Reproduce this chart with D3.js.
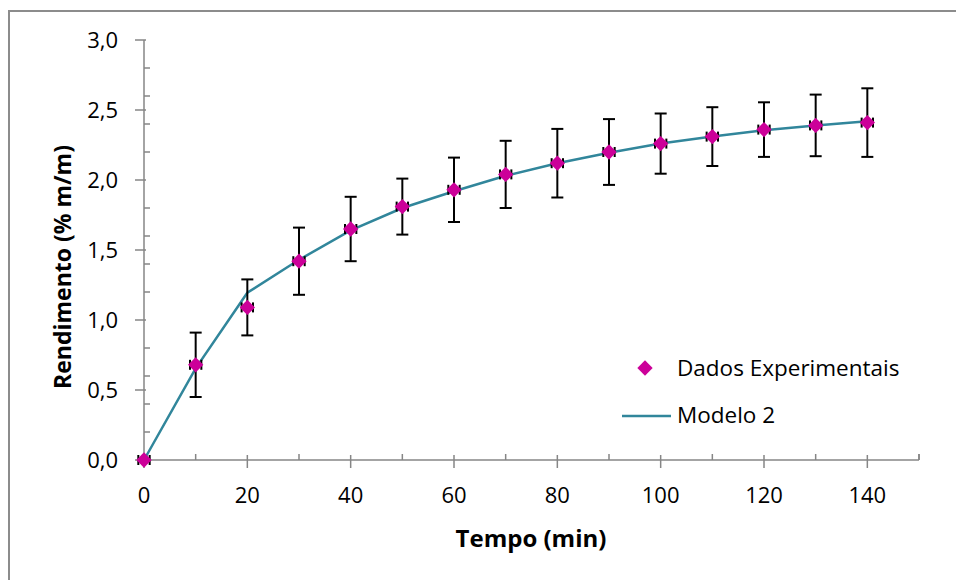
<!DOCTYPE html>
<html>
<head>
<meta charset="utf-8">
<script src="https://cdn.jsdelivr.net/npm/d3@7"></script>
<style>
  body { margin: 0; background: #fff; }
  text { font-family: "Open Sans", sans-serif; fill: #000; }
</style>
</head>
<body>
<svg width="956" height="580"></svg>
<script>
// data
const tempo = [0, 10, 20, 30, 40, 50, 60, 70, 80, 90, 100, 110, 120, 130, 140];
const rendimento = [0, 0.68, 1.09, 1.42, 1.65, 1.81, 1.93, 2.04, 2.12, 2.20, 2.26, 2.31, 2.36, 2.39, 2.41];
const erroY = [0, 0.23, 0.20, 0.24, 0.23, 0.20, 0.23, 0.24, 0.245, 0.235, 0.215, 0.21, 0.195, 0.22, 0.245];
const erroX = 1.1;
const modelo2 = [0, 0.655, 1.195, 1.43, 1.64, 1.80, 1.92, 2.03, 2.12, 2.195, 2.26, 2.31, 2.355, 2.39, 2.42];
const xTicks = [0, 20, 40, 60, 80, 100, 120, 140];
const yTicks = [0, 0.5, 1.0, 1.5, 2.0, 2.5, 3.0];

const svg = d3.select('svg');
const fmt = d3.format('.1f');
const comma = v => fmt(v).replace('.', ',');
const axisColor = '#868686';

// chart frame (runs off the right and bottom like the source)
svg.append('rect')
  .attr('x', 9).attr('y', 11)
  .attr('width', 1000).attr('height', 1000)
  .attr('fill', 'none')
  .attr('stroke', '#8c8c8c')
  .attr('stroke-width', 2);

const x = d3.scaleLinear().domain([0, 150]).range([144, 919]);
const y = d3.scaleLinear().domain([0, 3]).range([460, 40]);

// y axis
const gy = svg.append('g');
gy.append('line')
  .attr('x1', x(0)).attr('x2', x(0))
  .attr('y1', y(0)).attr('y2', y(3))
  .attr('stroke', axisColor).attr('stroke-width', 1.5);
gy.selectAll('.minor').data(d3.range(0.2, 3.01, 0.2).filter(v => Math.abs(v * 2 - Math.round(v * 2)) > 0.01))
  .join('line')
  .attr('x1', x(0)).attr('x2', x(0) + 6)
  .attr('y1', d => y(d)).attr('y2', d => y(d))
  .attr('stroke', axisColor).attr('stroke-width', 1.5);
gy.selectAll('.major').data(yTicks)
  .join('line')
  .attr('x1', x(0) - 9).attr('x2', x(0) + 2)
  .attr('y1', d => y(d)).attr('y2', d => y(d))
  .attr('stroke', axisColor).attr('stroke-width', 1.5);
gy.selectAll('text').data(yTicks)
  .join('text')
  .attr('x', 118)
  .attr('y', d => y(d))
  .attr('dy', '0.36em')
  .attr('text-anchor', 'end')
  .style('font-size', '22px')
  .text(d => comma(d));

// x axis
const gx = svg.append('g');
gx.append('line')
  .attr('x1', x(0)).attr('x2', x(150))
  .attr('y1', y(0)).attr('y2', y(0))
  .attr('stroke', axisColor).attr('stroke-width', 1.5);
gx.selectAll('.minor').data(d3.range(10, 151, 20).concat([150]))
  .join('line')
  .attr('x1', d => x(d)).attr('x2', d => x(d))
  .attr('y1', y(0) - 6).attr('y2', y(0))
  .attr('stroke', axisColor).attr('stroke-width', 1.5);
gx.selectAll('.major').data(xTicks)
  .join('line')
  .attr('x1', d => x(d)).attr('x2', d => x(d))
  .attr('y1', y(0) - 5).attr('y2', y(0) + 8)
  .attr('stroke', axisColor).attr('stroke-width', 1.5);
gx.selectAll('text').data(xTicks)
  .join('text')
  .attr('x', d => x(d))
  .attr('y', 503)
  .attr('text-anchor', 'middle')
  .style('font-size', '22px')
  .text(d => d);

// axis titles
svg.append('text')
  .attr('x', 531).attr('y', 547)
  .attr('text-anchor', 'middle')
  .style('font-size', '24px').style('font-weight', 'bold')
  .text('Tempo (min)');
svg.append('text')
  .attr('transform', 'translate(71,267) rotate(-90)')
  .attr('text-anchor', 'middle')
  .style('font-size', '23px').style('font-weight', 'bold')
  .text('Rendimento (% m/m)');

// model line
const line = d3.line().x((d, i) => x(tempo[i])).y(d => y(d));
svg.append('path')
  .datum(modelo2)
  .attr('d', line)
  .attr('fill', 'none')
  .attr('stroke', '#31869b')
  .attr('stroke-width', 2.5);

// error bars
const pts = tempo.map((t, i) => ({t, v: rendimento[i], e: erroY[i]}));
const eb = svg.append('g').attr('stroke', '#000').attr('stroke-width', 2);
eb.selectAll('.v').data(pts.filter(d => d.e > 0))
  .join('line')
  .attr('x1', d => x(d.t)).attr('x2', d => x(d.t))
  .attr('y1', d => y(d.v - d.e)).attr('y2', d => y(d.v + d.e));
eb.selectAll('.cap').data(pts.filter(d => d.e > 0).flatMap(d => [d.v - d.e, d.v + d.e].map(v => ({t: d.t, v}))))
  .join('line')
  .attr('x1', d => x(d.t) - 6).attr('x2', d => x(d.t) + 6)
  .attr('y1', d => y(d.v)).attr('y2', d => y(d.v));
eb.selectAll('.xcap').data(pts.flatMap(d => [d.t - erroX, d.t + erroX].map(t => ({t, v: d.v}))))
  .join('line')
  .attr('x1', d => x(d.t)).attr('x2', d => x(d.t))
  .attr('y1', d => y(d.v) - 5).attr('y2', d => y(d.v) + 5);

// data markers
const diamond = d3.symbol().type(d3.symbolDiamond2).size(150);
svg.selectAll('.pt').data(pts)
  .join('path')
  .attr('transform', d => `translate(${x(d.t)},${y(d.v)})`)
  .attr('d', diamond)
  .attr('fill', '#cc0099');

// legend
svg.append('path')
  .attr('transform', 'translate(645,368)')
  .attr('d', diamond)
  .attr('fill', '#cc0099');
svg.append('text')
  .attr('x', 677).attr('y', 376)
  .style('font-size', '22.5px')
  .text('Dados Experimentais');
svg.append('line')
  .attr('x1', 622).attr('x2', 671)
  .attr('y1', 416).attr('y2', 416)
  .attr('stroke', '#31869b').attr('stroke-width', 2.5);
svg.append('text')
  .attr('x', 677).attr('y', 423)
  .style('font-size', '22.5px')
  .text('Modelo 2');
</script>
</body>
</html>
